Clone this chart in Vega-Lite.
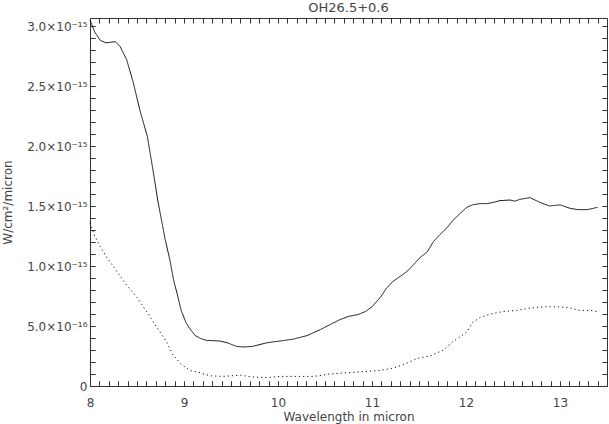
{
  "$schema": "https://vega.github.io/schema/vega-lite/v6.json",
  "width": 517,
  "height": 368,
  "autosize": "none",
  "padding": {"left": 90, "top": 18, "right": 2, "bottom": 38},
  "background": "white",
  "title": {"text": "OH26.5+0.6", "fontSize": 13, "font": "DejaVu Sans", "fontWeight": "normal", "color": "#444", "offset": 3, "anchor": "middle", "frame": "group"},
  "config": {
    "view": {"stroke": "#333", "strokeWidth": 1},
    "axis": {"labelFont": "DejaVu Sans", "labelFontSize": 12, "labelColor": "#444", "titleFont": "DejaVu Sans", "titleFontSize": 12, "titleFontWeight": "normal", "titleColor": "#444", "labelOverlap": false, "labelFlush": false}
  },
  "data": {"values": [
    {"series": "solid", "x": 8.0, "y": 3.05e-15}, {"series": "solid", "x": 8.05, "y": 2.95e-15}, {"series": "solid", "x": 8.11, "y": 2.88e-15}, {"series": "solid", "x": 8.17, "y": 2.86e-15}, {"series": "solid", "x": 8.22, "y": 2.865e-15}, {"series": "solid", "x": 8.27, "y": 2.87e-15}, {"series": "solid", "x": 8.32, "y": 2.83e-15}, {"series": "solid", "x": 8.39, "y": 2.72e-15}, {"series": "solid", "x": 8.46, "y": 2.53e-15}, {"series": "solid", "x": 8.53, "y": 2.3e-15}, {"series": "solid", "x": 8.61, "y": 2.08e-15}, {"series": "solid", "x": 8.67, "y": 1.8e-15}, {"series": "solid", "x": 8.72, "y": 1.55e-15}, {"series": "solid", "x": 8.8, "y": 1.22e-15}, {"series": "solid", "x": 8.85, "y": 1.05e-15}, {"series": "solid", "x": 8.89, "y": 0.88e-15}, {"series": "solid", "x": 8.93, "y": 0.76e-15}, {"series": "solid", "x": 8.97, "y": 0.63e-15}, {"series": "solid", "x": 9.02, "y": 0.53e-15}, {"series": "solid", "x": 9.06, "y": 0.48e-15}, {"series": "solid", "x": 9.12, "y": 0.42e-15}, {"series": "solid", "x": 9.18, "y": 0.395e-15}, {"series": "solid", "x": 9.24, "y": 0.38e-15}, {"series": "solid", "x": 9.38, "y": 0.375e-15}, {"series": "solid", "x": 9.46, "y": 0.36e-15}, {"series": "solid", "x": 9.56, "y": 0.33e-15}, {"series": "solid", "x": 9.63, "y": 0.325e-15}, {"series": "solid", "x": 9.73, "y": 0.33e-15}, {"series": "solid", "x": 9.88, "y": 0.36e-15}, {"series": "solid", "x": 10.02, "y": 0.375e-15}, {"series": "solid", "x": 10.16, "y": 0.39e-15}, {"series": "solid", "x": 10.31, "y": 0.42e-15}, {"series": "solid", "x": 10.45, "y": 0.47e-15}, {"series": "solid", "x": 10.55, "y": 0.51e-15}, {"series": "solid", "x": 10.65, "y": 0.55e-15}, {"series": "solid", "x": 10.75, "y": 0.58e-15}, {"series": "solid", "x": 10.85, "y": 0.595e-15}, {"series": "solid", "x": 10.93, "y": 0.62e-15}, {"series": "solid", "x": 11.0, "y": 0.66e-15}, {"series": "solid", "x": 11.09, "y": 0.74e-15}, {"series": "solid", "x": 11.15, "y": 0.81e-15}, {"series": "solid", "x": 11.22, "y": 0.87e-15}, {"series": "solid", "x": 11.33, "y": 0.93e-15}, {"series": "solid", "x": 11.38, "y": 0.96e-15}, {"series": "solid", "x": 11.44, "y": 1.01e-15}, {"series": "solid", "x": 11.51, "y": 1.07e-15}, {"series": "solid", "x": 11.59, "y": 1.12e-15}, {"series": "solid", "x": 11.65, "y": 1.2e-15}, {"series": "solid", "x": 11.72, "y": 1.26e-15}, {"series": "solid", "x": 11.8, "y": 1.32e-15}, {"series": "solid", "x": 11.86, "y": 1.38e-15}, {"series": "solid", "x": 11.94, "y": 1.44e-15}, {"series": "solid", "x": 12.01, "y": 1.49e-15}, {"series": "solid", "x": 12.07, "y": 1.51e-15}, {"series": "solid", "x": 12.15, "y": 1.52e-15}, {"series": "solid", "x": 12.22, "y": 1.52e-15}, {"series": "solid", "x": 12.29, "y": 1.53e-15}, {"series": "solid", "x": 12.36, "y": 1.545e-15}, {"series": "solid", "x": 12.47, "y": 1.55e-15}, {"series": "solid", "x": 12.52, "y": 1.54e-15}, {"series": "solid", "x": 12.57, "y": 1.555e-15}, {"series": "solid", "x": 12.68, "y": 1.57e-15}, {"series": "solid", "x": 12.76, "y": 1.54e-15}, {"series": "solid", "x": 12.82, "y": 1.52e-15}, {"series": "solid", "x": 12.89, "y": 1.5e-15}, {"series": "solid", "x": 13.0, "y": 1.51e-15}, {"series": "solid", "x": 13.11, "y": 1.48e-15}, {"series": "solid", "x": 13.19, "y": 1.47e-15}, {"series": "solid", "x": 13.29, "y": 1.47e-15}, {"series": "solid", "x": 13.35, "y": 1.48e-15}, {"series": "solid", "x": 13.4, "y": 1.49e-15},
    {"series": "dotted", "x": 8.0, "y": 1.36e-15}, {"series": "dotted", "x": 8.05, "y": 1.25e-15}, {"series": "dotted", "x": 8.11, "y": 1.16e-15}, {"series": "dotted", "x": 8.18, "y": 1.07e-15}, {"series": "dotted", "x": 8.29, "y": 0.95e-15}, {"series": "dotted", "x": 8.39, "y": 0.84e-15}, {"series": "dotted", "x": 8.5, "y": 0.74e-15}, {"series": "dotted", "x": 8.61, "y": 0.61e-15}, {"series": "dotted", "x": 8.71, "y": 0.49e-15}, {"series": "dotted", "x": 8.82, "y": 0.36e-15}, {"series": "dotted", "x": 8.88, "y": 0.26e-15}, {"series": "dotted", "x": 8.96, "y": 0.19e-15}, {"series": "dotted", "x": 9.06, "y": 0.13e-15}, {"series": "dotted", "x": 9.17, "y": 0.11e-15}, {"series": "dotted", "x": 9.28, "y": 0.085e-15}, {"series": "dotted", "x": 9.41, "y": 0.08e-15}, {"series": "dotted", "x": 9.6, "y": 0.09e-15}, {"series": "dotted", "x": 9.73, "y": 0.075e-15}, {"series": "dotted", "x": 9.88, "y": 0.07e-15}, {"series": "dotted", "x": 10.02, "y": 0.08e-15}, {"series": "dotted", "x": 10.2, "y": 0.08e-15}, {"series": "dotted", "x": 10.38, "y": 0.08e-15}, {"series": "dotted", "x": 10.55, "y": 0.1e-15}, {"series": "dotted", "x": 10.73, "y": 0.11e-15}, {"series": "dotted", "x": 10.91, "y": 0.12e-15}, {"series": "dotted", "x": 11.09, "y": 0.13e-15}, {"series": "dotted", "x": 11.23, "y": 0.15e-15}, {"series": "dotted", "x": 11.37, "y": 0.19e-15}, {"series": "dotted", "x": 11.48, "y": 0.23e-15}, {"series": "dotted", "x": 11.62, "y": 0.25e-15}, {"series": "dotted", "x": 11.76, "y": 0.3e-15}, {"series": "dotted", "x": 11.86, "y": 0.37e-15}, {"series": "dotted", "x": 11.9, "y": 0.39e-15}, {"series": "dotted", "x": 12.01, "y": 0.45e-15}, {"series": "dotted", "x": 12.07, "y": 0.53e-15}, {"series": "dotted", "x": 12.15, "y": 0.57e-15}, {"series": "dotted", "x": 12.26, "y": 0.6e-15}, {"series": "dotted", "x": 12.39, "y": 0.62e-15}, {"series": "dotted", "x": 12.54, "y": 0.63e-15}, {"series": "dotted", "x": 12.68, "y": 0.65e-15}, {"series": "dotted", "x": 12.82, "y": 0.66e-15}, {"series": "dotted", "x": 13.0, "y": 0.66e-15}, {"series": "dotted", "x": 13.11, "y": 0.65e-15}, {"series": "dotted", "x": 13.21, "y": 0.63e-15}, {"series": "dotted", "x": 13.32, "y": 0.63e-15}, {"series": "dotted", "x": 13.4, "y": 0.62e-15}
  ]},
  "mark": {"type": "line", "color": "#111", "strokeWidth": 1},
  "encoding": {
    "x": {"field": "x", "type": "quantitative", "scale": {"domain": [8, 13.5], "nice": false, "zero": false},
      "axis": {"orient": "bottom", "title": "Wavelength in micron", "titlePadding": 3, "domain": false,
        "ticks": true, "tickColor": "#333", "tickSize": 5, "offset": -5, "labelPadding": 11,
        "grid": true, "gridColor": "#333", "gridOpacity": 1, "gridWidth": 1, "gridDash": [5, 358],
        "values": [8.0,8.1,8.2,8.3,8.4,8.5,8.6,8.7,8.8,8.9,9.0,9.1,9.2,9.3,9.4,9.5,9.6,9.7,9.8,9.9,10.0,10.1,10.2,10.3,10.4,10.5,10.6,10.7,10.8,10.9,11.0,11.1,11.2,11.3,11.4,11.5,11.6,11.7,11.8,11.9,12.0,12.1,12.2,12.3,12.4,12.5,12.6,12.7,12.8,12.9,13.0,13.1,13.2,13.3,13.4],
        "labelExpr": "abs(datum.value - round(datum.value)) < 0.001 ? format(round(datum.value), 'd') : ''"}},
    "y": {"field": "y", "type": "quantitative", "scale": {"domain": [0, 3.067e-15], "nice": false, "zero": false},
      "axis": {"orient": "left", "title": "W/cm²/micron", "titlePadding": 12, "domain": false,
        "ticks": true, "tickColor": "#333", "tickSize": 5, "offset": -5, "labelPadding": 3,
        "grid": true, "gridColor": "#333", "gridOpacity": 1, "gridWidth": 1, "gridDash": [5, 507],
        "values": [0,1e-16,2e-16,3e-16,4e-16,5e-16,6e-16,7e-16,8e-16,9e-16,1e-15,1.1e-15,1.2e-15,1.3e-15,1.4e-15,1.5e-15,1.6e-15,1.7e-15,1.8e-15,1.9e-15,2e-15,2.1e-15,2.2e-15,2.3e-15,2.4e-15,2.5e-15,2.6e-15,2.7e-15,2.8e-15,2.9e-15,3e-15],
        "labelExpr": "abs(datum.value) < 1e-20 ? '0' : (abs(datum.value/5e-16 - round(datum.value/5e-16)) > 0.01 ? '' : (datum.value > 9.9e-16 ? format(datum.value/1e-15, '.1f') + '×10⁻¹⁵' : format(datum.value/1e-16, '.1f') + '×10⁻¹⁶'))"}},
    "strokeDash": {"field": "series", "type": "nominal", "scale": {"domain": ["solid", "dotted"], "range": [[1, 0], [1.2, 3]]}, "legend": null}
  }
}
